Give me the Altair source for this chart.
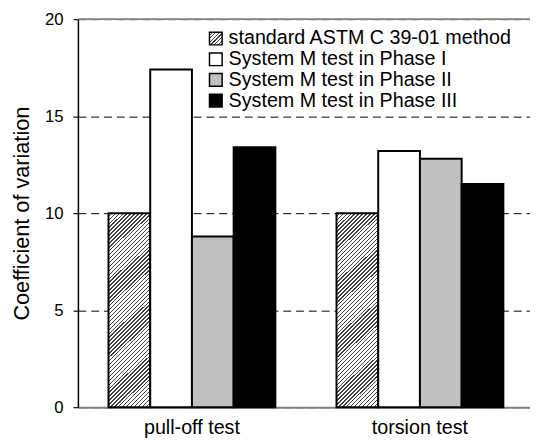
import altair as alt
import pandas as pd

# ---------------- data ----------------
categories = ["pull-off test", "torsion test"]
series = [
    "standard ASTM C 39-01 method",
    "System M test  in Phase I",
    "System M test in Phase II",
    "System M test in Phase III",
]
pull_off = [10.0, 17.4, 8.8, 13.4]
torsion = [10.0, 13.2, 12.8, 11.5]
y_ticks = [0, 5, 10, 15, 20]
legend_y = [19.0, 17.93, 16.87, 15.8]

rows = []
for s, a, b in zip(series, pull_off, torsion):
    rows.append({"test": categories[0], "series": s, "value": a})
    rows.append({"test": categories[1], "series": s, "value": b})
df = pd.DataFrame(rows)
legend_df = pd.DataFrame({"series": series, "value": legend_y})

FONT = "Liberation Sans"
W, H = 459, 394


def hatch(n, frac, x2, y2, dark="#404040", light="#ffffff"):
    stops = []
    for k in range(n):
        a = k / n
        b = (k + 1 - frac) / n
        c = (k + 1) / n
        stops += [
            {"offset": round(a, 5), "color": light},
            {"offset": round(b, 5), "color": light},
            {"offset": round(b, 5), "color": dark},
            {"offset": round(min(c, 1.0), 5), "color": dark},
        ]
    return {"gradient": "linear", "x1": 0, "y1": 0, "x2": x2, "y2": y2, "stops": stops}


bar_hatch = hatch(62, 0.36, 0.257, 1.2)
sq_hatch = hatch(7, 0.36, 1, 1)
fills = [bar_hatch, "#ffffff", "#c0c0c0", "#000000"]
sq_fills = [sq_hatch, "#ffffff", "#c0c0c0", "#000000"]

x_enc = alt.X(
    "test:N",
    sort=categories,
    scale=alt.Scale(range=[0, 463], paddingInner=0, paddingOuter=0),
    axis=alt.Axis(
        title=None, ticks=False, labelAngle=0, labelFontSize=20, labelFont=FONT,
        labelColor="black", labelPadding=11, domainColor="#808080", domainWidth=2,
    ),
)
xo_enc = alt.XOffset(
    "series:N", sort=series,
    scale=alt.Scale(domain=series, paddingInner=0, paddingOuter=0.733),
)
y_scale = alt.Scale(domain=[0, 20], nice=False, zero=True)
y_enc = alt.Y(
    "value:Q",
    scale=y_scale,
    axis=alt.Axis(
        values=y_ticks, title="Coefficient of variation", titleFont=FONT,
        titleFontSize=22, titleFontWeight="normal", titleColor="black", titlePadding=11,
        labelFont=FONT, labelFontSize=17, labelColor="black", labelPadding=10,
        tickSize=5, tickColor="black", tickWidth=1.2, domainColor="black", domainWidth=1.5,
        grid=True, gridDash=[8, 5], gridColor="black", gridWidth=1,
    ),
)

layers = []
for s, f in zip(series, fills):
    layers.append(
        alt.Chart(df)
        .transform_filter(alt.datum.series == s)
        .mark_bar(fill=f, stroke="black", strokeWidth=2)
        .encode(x=x_enc, xOffset=xo_enc, y=y_enc)
    )

top_rule = (
    alt.Chart(pd.DataFrame({"value": [20]}))
    .mark_rule(color="#808080", strokeWidth=2)
    .encode(y=y_enc)
)

leg_layers = []
for s, f in zip(series, sq_fills):
    leg_layers.append(
        alt.Chart(legend_df)
        .transform_filter(alt.datum.series == s)
        .mark_square(size=165, fill=f, stroke="black", strokeWidth=1.5, opacity=1, fillOpacity=1)
        .encode(x=alt.value(140), y=y_enc)
    )
leg_text = (
    alt.Chart(legend_df)
    .mark_text(align="left", baseline="middle", fontSize=20, font=FONT, color="black")
    .encode(x=alt.value(153), y=y_enc, text="series:N")
)

chart = (
    alt.layer(*layers, top_rule, *leg_layers, leg_text)
    .properties(
        width=W, height=H,
        autosize=alt.AutoSizeParams(type="none"),
        padding={"left": 71, "top": 8, "right": 0, "bottom": 30},
    )
    .configure_view(stroke=None)
    .configure(background="white")
)

chart.save("out.html", embed_options={"renderer": "svg", "actions": False})
